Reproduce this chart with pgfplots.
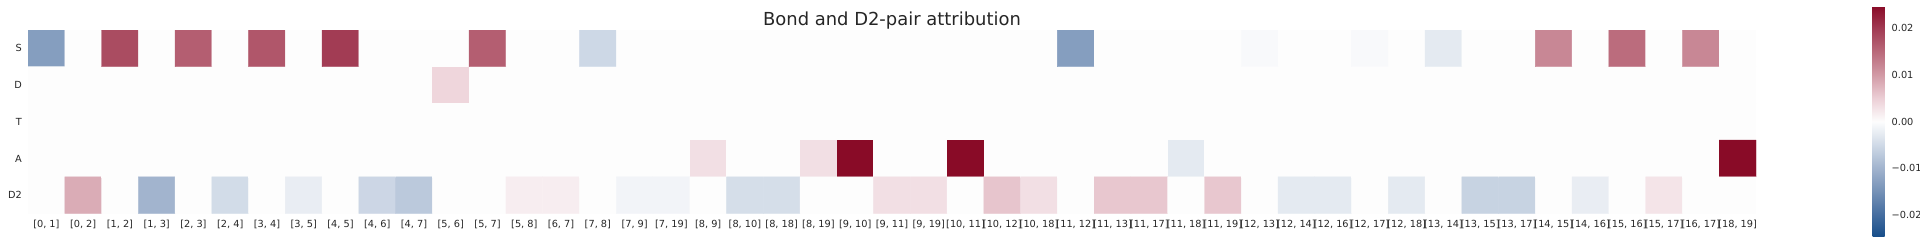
\documentclass[border=0pt]{standalone}
\usepackage{pgfplots}
\pgfplotsset{compat=1.18}
\usepackage{fontspec}
\setmainfont{DejaVu Sans}
\definecolor{txt}{HTML}{262626}
\pgfplotsset{colormap={bwr}{rgb255(0cm)=(22,77,137); rgb255(1cm)=(70,110,160); rgb255(2cm)=(118,146,183); rgb255(3cm)=(162,180,206); rgb255(4cm)=(208,218,231); rgb255(5cm)=(253,253,253); rgb255(6cm)=(236,207,214); rgb255(7cm)=(210,155,166); rgb255(8cm)=(186,106,123); rgb255(9cm)=(162,60,84); rgb255(10cm)=(137,11,39)}}
\begin{document}
\begin{tikzpicture}
\useasboundingbox (0,0) rectangle (1920bp,244bp);
\begin{axis}[
 at={(28bp,30.5bp)}, anchor=south west,
 scale only axis, width=1728bp, height=183.5bp,
 xmin=-0.5, xmax=46.5, ymin=-0.5, ymax=4.5, y dir=reverse,
 axis line style={draw=none}, tick style={draw=none}, major tick length=0pt,
 xtick={0,...,46},
 xticklabels={{[0, 1]},{[0, 2]},{[1, 2]},{[1, 3]},{[2, 3]},{[2, 4]},{[3, 4]},{[3, 5]},{[4, 5]},{[4, 6]},{[4, 7]},{[5, 6]},{[5, 7]},{[5, 8]},{[6, 7]},{[7, 8]},{[7, 9]},{[7, 19]},{[8, 9]},{[8, 10]},{[8, 18]},{[8, 19]},{[9, 10]},{[9, 11]},{[9, 19]},{[10, 11]},{[10, 12]},{[10, 18]},{[11, 12]},{[11, 13]},{[11, 17]},{[11, 18]},{[11, 19]},{[12, 13]},{[12, 14]},{[12, 16]},{[12, 17]},{[12, 18]},{[13, 14]},{[13, 15]},{[13, 17]},{[14, 15]},{[14, 16]},{[15, 16]},{[15, 17]},{[16, 17]},{[18, 19]}},
 ytick={0,...,4}, yticklabels={S,D,T,A,D2},
 tick label style={font=\fontsize{9.8}{10}\selectfont, text=txt},
 xticklabel style={anchor=base, inner sep=0pt, yshift=-13.8bp},
 yticklabel style={anchor=east, inner sep=0pt, xshift=-6bp},
 colormap name=bwr,
 point meta min=-0.0247, point meta max=0.0247,
 colorbar,
 colorbar style={
   at={(parent axis.south east)}, anchor=south west, xshift=108bp, yshift=-23.5bp,
   scale only axis, width=12bp, height=231bp,
   axis line style={draw=none}, tick style={draw=none}, major tick length=0pt,
   scaled y ticks=false,
   ytick={-0.02,-0.01,0,0.01,0.02},
   yticklabels={−0.02,−0.01,0.00,0.01,0.02},
   yticklabel pos=right,
   yticklabel style={anchor=west, inner sep=0pt, xshift=7bp, font=\fontsize{9.8}{10}\selectfont, text=txt},
 },
 title={Bond and D2-pair attribution},
 every axis title/.style={at={(0.5,1)}, anchor=base, yshift=4.3bp, inner sep=0pt, font=\fontsize{18}{18}\selectfont, text=txt},
]
\addplot[matrix plot*, mesh/cols=47, point meta=explicit] table[x=x, y=y, meta=c, row sep=\\] {
x y c\\
0 0 -0.0131\\ 1 0 0\\ 2 0 0.0181\\ 3 0 0\\ 4 0 0.0161\\ 5 0 0\\ 6 0 0.0170\\ 7 0 0\\ 8 0 0.0198\\ 9 0 0\\
10 0 0\\ 11 0 0\\ 12 0 0.0161\\ 13 0 0\\ 14 0 0\\ 15 0 -0.0052\\ 16 0 0\\ 17 0 0\\ 18 0 0\\ 19 0 0\\
20 0 0\\ 21 0 0\\ 22 0 0\\ 23 0 0\\ 24 0 0\\ 25 0 0\\ 26 0 0\\ 27 0 0\\ 28 0 -0.0131\\ 29 0 0\\
30 0 0\\ 31 0 0\\ 32 0 0\\ 33 0 -0.0005\\ 34 0 0\\ 35 0 0\\ 36 0 -0.0005\\ 37 0 0\\ 38 0 -0.0027\\ 39 0 0\\
40 0 0\\ 41 0 0.0119\\ 42 0 0\\ 43 0 0.0146\\ 44 0 0\\ 45 0 0.0119\\ 46 0 0\\
0 1 0\\ 1 1 0\\ 2 1 0\\ 3 1 0\\ 4 1 0\\ 5 1 0\\ 6 1 0\\ 7 1 0\\ 8 1 0\\ 9 1 0\\
10 1 0\\ 11 1 0.0042\\ 12 1 0\\ 13 1 0\\ 14 1 0\\ 15 1 0\\ 16 1 0\\ 17 1 0\\ 18 1 0\\ 19 1 0\\
20 1 0\\ 21 1 0\\ 22 1 0\\ 23 1 0\\ 24 1 0\\ 25 1 0\\ 26 1 0\\ 27 1 0\\ 28 1 0\\ 29 1 0\\
30 1 0\\ 31 1 0\\ 32 1 0\\ 33 1 0\\ 34 1 0\\ 35 1 0\\ 36 1 0\\ 37 1 0\\ 38 1 0\\ 39 1 0\\
40 1 0\\ 41 1 0\\ 42 1 0\\ 43 1 0\\ 44 1 0\\ 45 1 0\\ 46 1 0\\
0 2 0\\ 1 2 0\\ 2 2 0\\ 3 2 0\\ 4 2 0\\ 5 2 0\\ 6 2 0\\ 7 2 0\\ 8 2 0\\ 9 2 0\\
10 2 0\\ 11 2 0\\ 12 2 0\\ 13 2 0\\ 14 2 0\\ 15 2 0\\ 16 2 0\\ 17 2 0\\ 18 2 0\\ 19 2 0\\
20 2 0\\ 21 2 0\\ 22 2 0\\ 23 2 0\\ 24 2 0\\ 25 2 0\\ 26 2 0\\ 27 2 0\\ 28 2 0\\ 29 2 0\\
30 2 0\\ 31 2 0\\ 32 2 0\\ 33 2 0\\ 34 2 0\\ 35 2 0\\ 36 2 0\\ 37 2 0\\ 38 2 0\\ 39 2 0\\
40 2 0\\ 41 2 0\\ 42 2 0\\ 43 2 0\\ 44 2 0\\ 45 2 0\\ 46 2 0\\
0 3 0\\ 1 3 0\\ 2 3 0\\ 3 3 0\\ 4 3 0\\ 5 3 0\\ 6 3 0\\ 7 3 0\\ 8 3 0\\ 9 3 0\\
10 3 0\\ 11 3 0\\ 12 3 0\\ 13 3 0\\ 14 3 0\\ 15 3 0\\ 16 3 0\\ 17 3 0\\ 18 3 0.0032\\ 19 3 0\\
20 3 0\\ 21 3 0.0032\\ 22 3 0.0247\\ 23 3 0\\ 24 3 0\\ 25 3 0.0247\\ 26 3 0\\ 27 3 0\\ 28 3 0\\ 29 3 0\\
30 3 0\\ 31 3 -0.0027\\ 32 3 0\\ 33 3 0\\ 34 3 0\\ 35 3 0\\ 36 3 0\\ 37 3 0\\ 38 3 0\\ 39 3 0\\
40 3 0\\ 41 3 0\\ 42 3 0\\ 43 3 0\\ 44 3 0\\ 45 3 0\\ 46 3 0.0247\\
0 4 0\\ 1 4 0.0083\\ 2 4 0\\ 3 4 -0.0099\\ 4 4 0\\ 5 4 -0.0047\\ 6 4 0\\ 7 4 -0.0022\\ 8 4 0\\ 9 4 -0.0054\\
10 4 -0.0072\\ 11 4 0\\ 12 4 0\\ 13 4 0.0017\\ 14 4 0.0017\\ 15 4 0\\ 16 4 -0.0012\\ 17 4 -0.0012\\ 18 4 0\\ 19 4 -0.0044\\
20 4 -0.0044\\ 21 4 0\\ 22 4 0\\ 23 4 0.0032\\ 24 4 0.0032\\ 25 4 0\\ 26 4 0.0059\\ 27 4 0.0032\\ 28 4 0\\ 29 4 0.0057\\
30 4 0.0057\\ 31 4 0\\ 32 4 0.0057\\ 33 4 0\\ 34 4 -0.0027\\ 35 4 -0.0027\\ 36 4 0\\ 37 4 -0.0027\\ 38 4 0\\ 39 4 -0.0059\\
40 4 -0.0059\\ 41 4 0\\ 42 4 -0.0022\\ 43 4 0\\ 44 4 0.0027\\ 45 4 0\\ 46 4 0\\
};
\end{axis}
\end{tikzpicture}
\end{document}
